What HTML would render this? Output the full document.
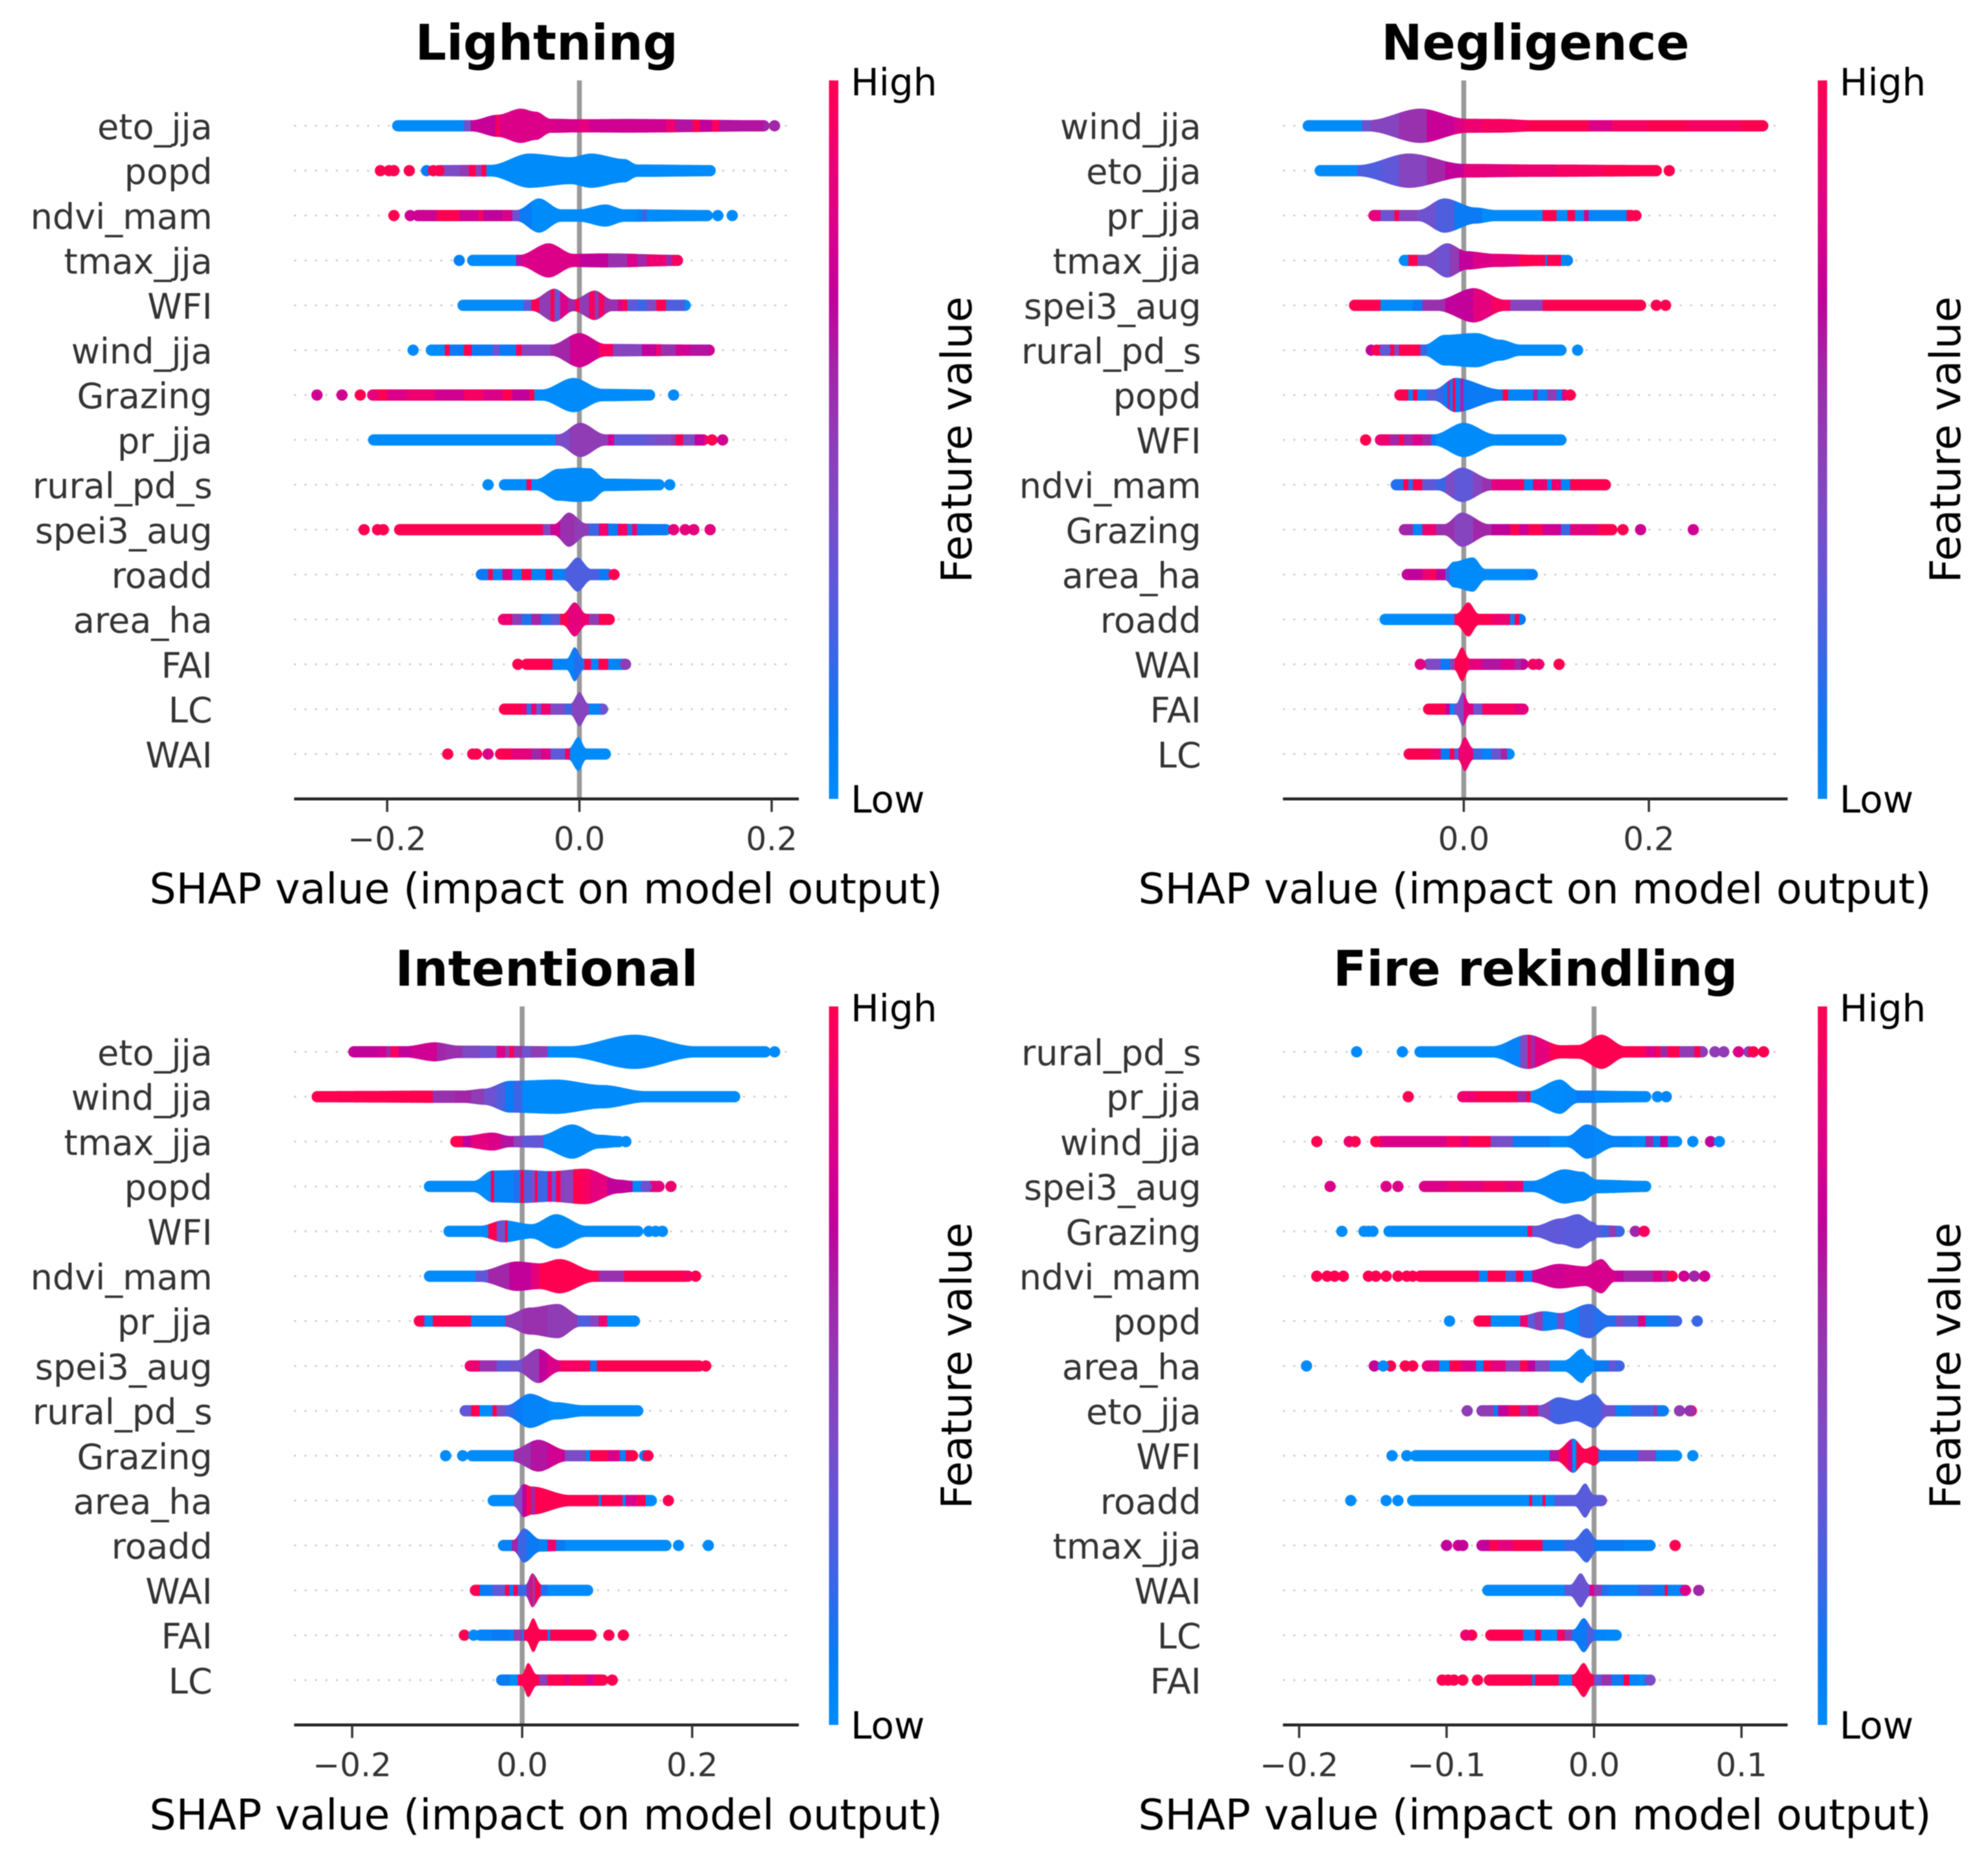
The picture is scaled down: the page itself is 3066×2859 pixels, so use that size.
<!DOCTYPE html>
<html lang="en">
<head>
<meta charset="utf-8">
<title>SHAP summary plots by fire cause</title>
<style>
html,body{margin:0;padding:0;background:#fff;}
#figure{display:block;width:3066px;height:2859px;filter:blur(0.9px);font-family:"DejaVu Sans","Liberation Sans",sans-serif;}
.title{font-size:75.5px;font-weight:700;fill:#000;text-anchor:middle;}
.xlabel{font-size:64.8px;fill:#000;text-anchor:middle;}
.cb{font-size:58px;fill:#000;}
.fv{font-size:64.7px;fill:#000;text-anchor:middle;}
.feat{font-size:54px;fill:#333;text-anchor:end;}
.tick{font-size:50px;fill:#333;text-anchor:middle;}
</style>
</head>
<body>
<svg id="figure" xmlns="http://www.w3.org/2000/svg" width="3066" height="2859" viewBox="0 0 3066 2859">
<defs id="defs">
<linearGradient id="cbGrad" x1="0" y1="1" x2="0" y2="0">
<stop offset="0" stop-color="#008bfb"/><stop offset=".1" stop-color="#0a7af5"/><stop offset=".2" stop-color="#3a66e6"/><stop offset=".3" stop-color="#5f58d8"/><stop offset=".4" stop-color="#7c4bc6"/><stop offset=".5" stop-color="#8f3cb5"/><stop offset=".6" stop-color="#a226a8"/><stop offset=".7" stop-color="#c2009a"/><stop offset=".8" stop-color="#dc0089"/><stop offset=".9" stop-color="#ee0070"/><stop offset="1" stop-color="#ff0051"/>
</linearGradient>
</defs>
<rect width="3066" height="2859" fill="#fff"/>

<g id="panel-lightning">
<text class="title" x="843" y="92">Lightning</text>
<text class="xlabel" x="842" y="1393">SHAP value (impact on model output)</text>
<rect x="1278.5" y="124" width="14.4" height="1108" fill="url(#cbGrad)"/>
<text class="cb" x="1312" y="147">High</text>
<text class="cb" x="1312" y="1253">Low</text>
<text class="fv" transform="translate(1498 678) rotate(-90)">Feature value</text>
</g>
<g id="panel-negligence">
<text class="title" x="2368" y="92">Negligence</text>
<text class="xlabel" x="2367" y="1393">SHAP value (impact on model output)</text>
<rect x="2803.5" y="124" width="14.4" height="1108" fill="url(#cbGrad)"/>
<text class="cb" x="2837" y="147">High</text>
<text class="cb" x="2837" y="1253">Low</text>
<text class="fv" transform="translate(3023 678) rotate(-90)">Feature value</text>
</g>
<g id="panel-intentional">
<text class="title" x="843" y="1520">Intentional</text>
<text class="xlabel" x="842" y="2821">SHAP value (impact on model output)</text>
<rect x="1278.5" y="1552" width="14.4" height="1108" fill="url(#cbGrad)"/>
<text class="cb" x="1312" y="1575">High</text>
<text class="cb" x="1312" y="2681">Low</text>
<text class="fv" transform="translate(1498 2106) rotate(-90)">Feature value</text>
</g>
<g id="panel-rekindling">
<text class="title" x="2368" y="1520">Fire rekindling</text>
<text class="xlabel" x="2367" y="2821">SHAP value (impact on model output)</text>
<rect x="2803.5" y="1552" width="14.4" height="1108" fill="url(#cbGrad)"/>
<text class="cb" x="2837" y="1575">High</text>
<text class="cb" x="2837" y="2681">Low</text>
<text class="fv" transform="translate(3023 2106) rotate(-90)">Feature value</text>
</g>
</svg>
<script>
/* ===== Lightning ===== */
const lightningFeatures = ["eto_jja","popd","ndvi_mam","tmax_jja","WFI","wind_jja","Grazing","pr_jja","rural_pd_s","spei3_aug","roadd","area_ha","FAI","LC","WAI"];
const lightningTicks = [-0.2,0,0.2];
const lightningTickLabels = ["\u22120.2","0.0","0.2"];
const lightningShape = [
[[-.189,0],[-.112,0],[-.085,.45],[-.061,.95],[-.045,.7],[-.03,.12],[0,.08],[.05,.1],[.192,0]],
[[-.144,0],[-.092,.02],[-.052,.95],[-.009,.65],[.012,.95],[.047,.5],[.06,.05],[.136,0]],
[[-.168,0],[-.065,0],[-.042,.95],[-.019,.05],[.0,.05],[.027,.45],[.047,.05],[.133,0]],
[[-.111,0],[-.062,0],[-.032,.95],[-.006,.08],[.03,.12],[.1,0]],
[[-.121,0],[-.049,0],[-.026,.9],[-.006,.02],[.016,.75],[.034,.02],[.11,0]],
[[-.154,0],[-.029,0],[0,.95],[.027,.05],[.135,0]],
[[-.214,0],[-.039,0],[-.006,.95],[.024,.05],[.073,0]],
[[-.214,0],[-.022,0],[.001,.95],[.027,0],[.129,0]],
[[-.078,0],[-.045,0],[-.022,.85],[-.003,.95],[.011,.9],[.027,.05],[.083,0]],
[[-.187,0],[-.026,0],[-.011,.95],[.007,.05],[.09,0]],
[[-.102,0],[-.016,0],[-.002,.95],[.012,0],[.03,0]],
[[-.078,0],[-.017,0],[-.005,.95],[.007,0],[.03,0]],
[[-.055,0],[-.013,0],[-.005,.95],[.004,0],[.047,0]],
[[-.078,0],[-.009,0],[0,.95],[.009,0],[.024,0]],
[[-.082,0],[-.011,0],[-.001,.95],[.007,0],[.027,0]]
];
const lightningTone = [
[[-.189,0],[-.12,.35],[-.113,.72],[-.087,.95],[-.083,.8],[-.03,.78],[0,.85],[.01,.75],[.09,.9],[.1,.65],[.118,1],[.125,.7],[.138,.95],[.146,.65],[.192,.6]],
[[-.14,.4],[-.125,.5],[-.115,1],[-.108,.45],[-.102,1],[-.097,0]],
[[-.168,.75],[-.148,1],[-.125,.75],[-.105,.95],[-.1,.7],[-.08,.8],[-.07,.35],[-.062,.1],[-.05,0],[.06,.05],[.065,.2],[.07,0]],
[[-.111,0],[-.066,.65],[-.06,.8],[.0,.7],[.03,.55],[.05,.8],[.06,.6],[.07,.9],[.09,.6],[.097,1]],
[[-.121,0],[-.058,.3],[-.05,1],[-.042,.5],[-.03,1],[-.026,.35],[-.02,.8],[-.012,.6],[-.004,1],[0,.5],[.01,.95],[.016,.5],[.02,.95],[.026,.55],[.04,.8],[.045,1],[.05,.3],[.06,.2],[.07,.4],[.08,1],[.09,.25],[.11,0]],
[[-.154,0],[-.14,1],[-.135,.1],[-.12,1],[-.112,.1],[-.09,.35],[-.083,.1],[-.066,1],[-.06,.45],[-.03,.6],[-.01,.75],[.02,.95],[.035,.45],[.065,.7],[.08,.9],[.085,.55],[.1,.75],[.115,.65],[.135,.75]],
[[-.214,1],[-.2,.8],[-.18,.9],[-.15,.75],[-.12,.95],[-.1,.8],[-.08,1],[-.07,.7],[-.052,1],[-.047,0]],
[[-.214,0],[-.025,.4],[-.01,.5],[.03,.75],[.036,.3],[.07,.35],[.08,.4],[.095,.5],[.1,1],[.108,.4],[.12,.7],[.129,.85]],
[[-.078,0],[-.055,1],[-.05,0]],
[[-.187,1],[-.04,.95],[-.038,.45],[-.03,.75],[-.02,.55],[-.005,.5],[.01,.2],[.02,.9],[.03,.1],[.04,.95],[.05,.15],[.055,.9],[.06,.1],[.09,.05]],
[[-.102,.1],[-.095,1],[-.09,.05],[-.08,.8],[-.07,.05],[-.06,1],[-.05,.05],[-.035,1],[-.028,.05],[-.015,.25],[.02,.1],[.03,.2]],
[[-.078,.9],[-.07,.5],[-.06,.15],[-.05,.6],[-.04,.15],[-.03,.3],[-.02,1],[-.012,.85],[.002,.9],[.01,.5],[.02,1],[.028,.05]],
[[-.055,1],[-.028,.05],[-.005,.15],[.004,.05],[.005,1],[.012,.05],[.02,1],[.03,.05],[.045,.4]],
[[-.078,1],[-.06,.9],[-.055,.2],[-.05,.9],[-.045,.3],[-.04,.9],[-.03,.4],[-.015,.2],[-.008,.45],[.01,.05],[.022,.35]],
[[-.082,1],[-.07,.85],[-.05,.6],[-.04,.8],[-.03,.3],[-.015,.9],[-.01,0]]
];
const lightningDots = [
[[.203,.6]],
[[-.207,1],[-.198,1],[-.193,1],[-.177,1],[-.159,.1],[-.152,1],[-.146,1]],
[[-.193,1],[-.176,.75],[-.162,.75],[.144,0],[.159,0]],
[[-.125,.06],[.102,.95]],
[],
[[-.173,0]],
[[-.273,.75],[-.247,.75],[-.228,1],[-.215,.85],[.098,0]],
[[.138,1],[.149,.75]],
[[-.095,0],[.094,0]],
[[-.224,1],[-.21,1],[-.204,1],[.098,.85],[.11,.85],[.119,.85],[.136,.85]],
[[.036,1]],
[[-.079,.9],[.031,1]],
[[-.064,1],[.048,.5]],
[],
[[-.137,1],[-.111,1],[-.107,1],[-.095,.8]]
];

/* ===== Negligence ===== */
const negligenceFeatures = ["wind_jja","eto_jja","pr_jja","tmax_jja","spei3_aug","rural_pd_s","popd","WFI","ndvi_mam","Grazing","area_ha","roadd","WAI","FAI","LC"];
const negligenceTicks = [0,0.2];
const negligenceTickLabels = ["0.0","0.2"];
const negligenceShape = [
[[-.168,0],[-.103,0],[-.047,.95],[.003,.12],[.04,.1],[.075,0],[.323,0]],
[[-.155,0],[-.114,0],[-.059,.95],[0,.1],[.075,.05],[.208,0]],
[[-.097,0],[-.049,0],[-.021,.95],[.013,.2],[.034,0],[.181,0]],
[[-.064,0],[-.042,0],[-.018,.95],[.003,.3],[.034,.08],[.08,0],[.108,0]],
[[-.118,0],[-.028,0],[.011,.95],[.044,0],[.191,0]],
[[-.09,0],[-.042,0],[-.021,.8],[.013,.95],[.04,.4],[.061,0],[.105,0]],
[[-.069,0],[-.032,0],[-.009,.95],[.04,0],[.109,0]],
[[-.09,0],[-.032,0],[0,.95],[.034,0],[.105,0]],
[[-.073,0],[-.028,0],[-.002,.95],[.03,0],[.153,0]],
[[-.064,0],[-.021,0],[-.002,.95],[.027,0],[.16,0]],
[[-.061,0],[-.02,0],[-.011,.6],[.01,.95],[.023,0],[.071,0]],
[[-.085,0],[-.008,0],[.005,.95],[.016,0],[.061,0]],
[[-.038,0],[-.01,0],[-.002,.95],[.006,0],[.064,0]],
[[-.038,0],[-.008,0],[-.001,.95],[.006,0],[.064,0]],
[[-.059,0],[-.006,0],[.001,.95],[.01,0],[.049,0]]
];
const negligenceTone = [
[[-.168,0],[-.11,.35],[-.1,.45],[-.07,.55],[-.04,.72],[-.01,.8],[0,.9],[.02,.95],[.07,1],[.135,.8],[.16,.95],[.2,1],[.24,.95],[.3,1]],
[[-.155,0],[-.115,.25],[-.09,.3],[-.07,.45],[-.04,.6],[-.02,.7],[0,.85],[.05,.9],[.1,.95],[.15,1]],
[[-.097,.85],[-.09,.35],[-.075,1],[-.07,.45],[-.05,.35],[-.03,.25],[-.01,.1],[.02,0],[.085,1],[.1,0],[.112,1],[.12,0],[.13,.8],[.135,.05],[.176,1]],
[[-.064,0],[-.06,1],[-.05,.4],[-.03,.35],[-.015,.5],[-.005,.7],[.01,.8],[.03,.85],[.06,1],[.085,1],[.088,.1],[.09,1],[.105,0]],
[[-.118,1],[-.09,0],[-.055,.1],[-.045,.55],[-.02,.7],[.01,.85],[.03,.95],[.05,.45],[.085,1]],
[[-.09,.5],[-.08,1],[-.075,.4],[-.07,1],[-.047,.2],[-.04,0]],
[[-.069,1],[-.06,.05],[-.055,1],[-.05,.05],[-.04,.3],[-.03,.2],[-.022,.1],[-.018,.6],[-.015,.1],[-.012,1],[-.009,.1],[-.004,.6],[0,.1],[.03,.1],[.042,1],[.048,.05],[.075,.6],[.08,.05],[.09,.5],[.1,.1],[.106,.8]],
[[-.09,.9],[-.08,.6],[-.07,1],[-.065,.6],[-.055,.8],[-.045,.6],[-.035,.1],[-.03,0]],
[[-.073,.15],[-.065,1],[-.06,.15],[-.055,1],[-.045,.3],[-.03,.2],[-.02,.4],[-.01,.3],[.01,.45],[.02,.55],[.03,.85],[.06,.95],[.065,.05],[.075,.9],[.09,.05],[.095,.9],[.105,.05],[.115,1]],
[[-.064,.6],[-.055,.05],[-.045,.9],[-.03,.55],[-.01,.45],[.01,.6],[.03,.7],[.05,1],[.06,.75],[.07,1],[.085,.75],[.105,.2],[.115,.85],[.145,1]],
[[-.061,.7],[-.045,.9],[-.035,1],[-.03,.7],[-.02,.2],[-.015,0]],
[[-.085,0],[-.01,1],[.015,1],[.03,.9],[.05,.05],[.055,1],[.06,.1]],
[[-.038,.4],[-.025,.1],[-.015,.45],[-.01,1],[.005,.85],[.02,.65],[.04,.8],[.055,.6],[.062,.7]],
[[-.038,1],[-.02,.7],[-.015,.05],[-.01,.4],[0,.85],[.01,.35],[.02,.95],[.045,.95],[.055,.85]],
[[-.059,1],[-.035,.9],[-.025,.1],[-.015,1],[-.01,.2],[-.006,.9],[.01,.2],[.02,.05],[.03,.35],[.04,.6],[.047,0]]
];
const negligenceDots = [
[],
[[.222,1]],
[[.186,1]],
[[.112,.05]],
[[.208,1],[.218,1]],
[[-.1,.7],[-.094,1],[-.085,.3],[.123,0]],
[[.115,1]],
[[-.106,1]],
[],
[[.172,1],[.191,.75],[.248,.75]],
[[.074,.05]],
[],
[[-.047,.85],[.075,.95],[.081,.9],[.103,1]],
[],
[]
];

/* ===== Intentional ===== */
const intentionalFeatures = ["eto_jja","wind_jja","tmax_jja","popd","WFI","ndvi_mam","pr_jja","spei3_aug","rural_pd_s","Grazing","area_ha","roadd","WAI","FAI","LC"];
const intentionalTicks = [-0.2,0,0.2];
const intentionalTickLabels = ["\u22120.2","0.0","0.2"];
const intentionalShape = [
[[-.198,0],[-.137,0],[-.103,.32],[-.074,.05],[.056,0],[.132,.95],[.204,0],[.286,0]],
[[-.241,0],[-.068,.05],[-.045,.2],[-.014,.85],[.04,.95],[.095,.5],[.145,0],[.25,0]],
[[-.078,0],[-.068,0],[-.035,.28],[-.014,0],[.021,.05],[.059,.95],[.091,.1],[.114,0]],
[[-.109,0],[-.057,0],[-.035,.85],[.002,.9],[.033,.8],[.074,1],[.114,.1],[.13,0],[.161,0]],
[[-.086,0],[-.049,0],[-.022,.45],[.011,.13],[.04,.95],[.075,0],[.136,0]],
[[-.109,0],[-.049,0],[-.006,.75],[.021,.6],[.044,.95],[.085,0],[.192,0]],
[[-.121,0],[-.02,0],[.009,.65],[.042,.95],[.068,0],[.132,0]],
[[-.061,0],[-.006,0],[.019,.95],[.044,0],[.208,0]],
[[-.067,0],[-.018,0],[.009,.95],[.04,.25],[.072,0],[.136,0]],
[[-.059,0],[-.012,0],[.019,.85],[.052,0],[.13,0]],
[[-.034,0],[-.01,0],[.002,.9],[.011,.7],[.056,0],[.152,0]],
[[-.022,0],[-.01,0],[.002,.95],[.021,.05],[.044,0],[.169,0]],
[[-.055,0],[.004,0],[.012,.95],[.023,0],[.077,0]],
[[-.049,0],[.005,0],[.013,.95],[.021,0],[.081,0]],
[[-.024,0],[0,0],[.007,.95],[.017,0],[.095,0]]
];
const intentionalTone = [
[[-.198,.7],[-.17,.75],[-.16,.6],[-.155,.95],[-.145,.7],[-.13,.75],[-.1,.6],[-.09,.55],[-.07,.42],[-.05,.35],[-.03,.8],[-.02,.5],[-.015,1],[-.01,.55],[0,.35],[.01,.5],[.03,0]],
[[-.241,1],[-.105,.55],[-.08,.6],[-.06,.5],[-.045,.35],[-.03,.25],[-.02,.1],[-.01,.2],[0,0]],
[[-.078,1],[-.07,.7],[-.06,.85],[-.04,.8],[-.025,.65],[-.01,.45],[0,.3],[.02,.35],[.025,0]],
[[-.109,0],[-.037,.95],[-.033,.05],[-.01,.15],[-.002,1],[.002,.25],[.01,.35],[.015,1],[.018,.2],[.03,.9],[.035,.3],[.04,1],[.045,.45],[.06,1],[.07,.95],[.08,.85],[.1,.7],[.13,.05],[.14,.4],[.15,.85]],
[[-.086,0],[-.04,1],[-.03,.35],[-.02,1],[-.017,0]],
[[-.109,0],[-.055,.3],[-.04,.6],[-.015,.7],[.01,.85],[.02,1],[.09,.55],[.12,1]],
[[-.121,1],[-.115,0],[-.105,1],[-.06,.05],[-.02,.5],[0,.55],[.03,.5],[.065,.25],[.08,.45],[.09,.9],[.1,0]],
[[-.061,.9],[-.05,.55],[-.03,.3],[-.015,.35],[0,.5],[.02,.7],[.03,.8],[.045,.95],[.08,.1],[.088,1]],
[[-.067,.3],[-.06,1],[-.05,0],[-.035,1],[-.03,.4],[-.02,.2],[-.01,.1],[0,.05],[.03,0]],
[[-.059,0],[-.01,.55],[.01,.65],[.03,.75],[.05,.4],[.075,.05],[.08,1],[.1,.8],[.115,.05],[.122,1]],
[[-.034,0],[-.01,.4],[0,.7],[.005,1],[.01,.6],[.015,1],[.09,.05],[.093,1],[.118,.05],[.122,.8],[.135,1],[.145,0]],
[[-.022,.05],[-.012,.6],[-.005,.2],[.005,.1],[.02,.05],[.03,.9],[.04,.1],[.05,0]],
[[-.055,1],[-.05,.1],[-.035,.3],[-.02,1],[-.015,.1],[-.01,1],[-.005,.2],[.005,.6],[.01,1],[.012,.5],[.015,1],[.022,.15],[.03,0]],
[[-.049,.05],[-.035,.1],[-.015,.05],[-.01,.5],[0,.05],[.002,1],[.03,.05],[.033,1]],
[[-.024,.1],[-.015,0],[-.005,1],[.02,.5],[.03,1],[.05,.8],[.055,1],[.075,.8],[.085,1]]
];
const intentionalDots = [
[[.297,0]],
[],
[[.122,0]],
[[.137,.02],[.146,.35],[.175,.9]],
[[.149,0],[.157,0],[.165,0]],
[[.204,1],[.195,.95]],
[],
[[.216,1]],
[],
[[-.09,0],[-.07,0],[.144,0],[.148,1]],
[[.172,1]],
[[.184,0],[.219,0]],
[],
[[-.068,1],[-.057,0],[.102,1],[.119,1]],
[[.106,1]]
];

/* ===== Fire rekindling ===== */
const rekindlingFeatures = ["rural_pd_s","pr_jja","wind_jja","spei3_aug","Grazing","ndvi_mam","popd","area_ha","eto_jja","WFI","roadd","tmax_jja","WAI","LC","FAI"];
const rekindlingTicks = [-0.2,-0.1,0,0.1];
const rekindlingTickLabels = ["\u22120.2","\u22120.1","0.0","0.1"];
const rekindlingShape = [
[[-.118,0],[-.069,0],[-.045,.95],[-.022,.08],[-.011,.1],[.005,.95],[.021,0],[.0735,0]],
[[-.089,0],[-.044,0],[-.023,.95],[-.011,.05],[.035,0]],
[[-.145,0],[-.018,0],[-.005,.95],[.014,0],[.056,0]],
[[-.115,0],[-.042,0],[-.02,.95],[-.008,.75],[.002,.1],[.035,0]],
[[-.139,0],[-.04,0],[-.023,.6],[-.011,.95],[0,.3],[.002,.05],[.017,0]],
[[-.118,0],[-.044,0],[-.024,.55],[-.006,.35],[.005,.95],[.014,0],[.05,0]],
[[-.078,0],[-.049,0],[-.034,.35],[-.023,.2],[-.003,.95],[.01,0],[.056,0]],
[[-.113,0],[-.02,0],[-.008,.95],[-.004,.4],[0,0],[.017,0]],
[[-.076,0],[-.037,0],[-.024,.65],[-.012,.4],[0,.95],[.009,0],[.047,0]],
[[-.121,0],[-.025,0],[-.014,.95],[-.006,.1],[0,.35],[.005,0],[.056,0]],
[[-.123,0],[-.013,0],[-.006,.95],[0,0],[.005,0]],
[[-.076,0],[-.014,0],[-.005,.95],[.002,0],[.038,0]],
[[-.072,0],[-.016,0],[-.009,.95],[-.003,0],[.061,0]],
[[-.07,0],[-.014,0],[-.007,.95],[0,0],[.015,0]],
[[-.071,0],[-.014,0],[-.007,.95],[-.001,0],[.035,0]]
];
const rekindlingTone = [
[[-.118,0],[-.06,.05],[-.05,.4],[-.045,.95],[-.043,.6],[-.04,.85],[-.03,1],[.035,.8],[.042,1],[.045,.6],[.05,1],[.058,.5],[.068,1],[.072,.5]],
[[-.089,.9],[-.08,1],[-.052,.6],[-.046,1],[-.043,0],[-.02,.02],[-.012,.08],[0,.02],[.015,0]],
[[-.145,.8],[-.13,.8],[-.1,.95],[-.09,.8],[-.085,1],[-.07,.38],[-.055,.08],[-.03,0],[-.018,.05],[0,.02],[.01,.05],[.025,0],[.035,.6],[.04,.1],[.045,.7],[.05,0]],
[[-.115,.8],[-.1,.9],[-.09,.85],[-.075,.95],[-.06,.85],[-.055,.9],[-.048,.05],[-.04,.02],[-.02,.01],[0,0]],
[[-.139,0],[-.045,.95],[-.042,.3],[-.02,.28],[.005,.2],[.01,.5],[.015,.2]],
[[-.118,1],[-.08,.95],[-.078,.05],[-.072,1],[-.06,.2],[-.053,1],[-.048,.1],[-.042,.75],[-.02,.78],[.015,.72],[.02,.6],[.04,.8],[.046,.6]],
[[-.078,1],[-.07,0],[-.05,.9],[-.045,.3],[-.04,.5],[-.035,.05],[-.025,.4],[-.02,.05],[-.01,.2],[0,.15],[.015,.4],[.02,.25],[.03,.8],[.035,.08],[.05,.2]],
[[-.113,.85],[-.105,0],[-.098,1],[-.09,.8],[-.08,.05],[-.075,1],[-.07,.85],[-.06,.45],[-.05,1],[-.045,.7],[-.04,.4],[-.03,0],[0,.1],[.01,.3],[.015,.2]],
[[-.076,.5],[-.068,.1],[-.065,.7],[-.058,1],[-.05,.6],[-.045,.85],[-.038,.4],[-.03,.22],[.005,.35],[.015,.05],[.025,.2],[.04,.5],[.043,.08]],
[[-.121,0],[-.03,.65],[-.024,1],[-.018,.8],[-.015,0],[-.012,1],[.003,.1],[.03,.45],[.042,0]],
[[-.123,0],[-.044,1],[-.042,0],[-.035,1],[-.033,0],[-.027,.28],[.005,.35]],
[[-.076,.7],[-.071,1],[-.065,.85],[-.055,1],[-.036,.95],[-.035,.1],[-.02,.2],[0,.1],[.02,.05]],
[[-.072,0],[-.02,.3],[-.015,.33],[-.003,.8],[0,.5],[.005,.15],[.01,.05],[.03,.2],[.04,.1],[.048,1],[.05,.05]],
[[-.07,1],[-.048,.05],[-.04,1],[-.036,0],[-.025,.95],[-.02,.5],[-.015,.1],[-.005,.25],[0,.05],[.008,.02]],
[[-.071,1],[-.042,.1],[-.04,1],[-.024,0],[-.015,1],[0,.3],[.005,.55],[.012,.1],[.02,1],[.024,.05],[.03,0]]
];
const rekindlingDots = [
[[-.161,0],[-.13,0],[.082,.5],[.088,.5],[.098,.8],[.105,.5],[.108,1],[.115,1]],
[[-.126,1],[.043,0],[.049,.03]],
[[-.188,1],[-.166,.9],[-.162,1],[-.148,1],[.067,0],[.079,.7],[.085,0]],
[[-.179,.8],[-.141,.8],[-.133,.8]],
[[-.171,0],[-.156,0],[-.153,0],[-.15,0],[.028,.6],[.034,.95]],
[[-.188,1],[-.181,1],[-.176,1],[-.17,1],[-.153,1],[-.148,1],[-.141,1],[-.133,1],[-.127,1],[-.123,1],[.053,1],[.061,.75],[.068,.6],[.075,.75]],
[[-.098,0],[.07,.2]],
[[-.195,0],[-.149,.7],[-.138,1],[-.143,0],[-.128,1],[-.123,1]],
[[-.086,.5],[.058,.5],[.066,1],[.065,.55]],
[[-.137,.0],[-.127,0],[.067,0]],
[[-.165,0],[-.141,0],[-.133,0]],
[[-.1,.7],[-.092,.75],[-.089,.7],[.055,1]],
[[.062,.8],[.071,.6]],
[[-.083,1],[-.087,.9]],
[[-.103,1],[-.099,1],[-.095,1],[-.089,1],[-.079,1],[.038,.4]]
];

/* ===== Shared colour scale (value 0..1 -> colour) ===== */
const colourStops = ["#008bfb","#0a7af5","#3a66e6","#5f58d8","#7c4bc6","#8f3cb5","#a226a8","#c2009a","#dc0089","#ee0070","#ff0051"];

const SVG_NS = "http://www.w3.org/2000/svg";
const rootSvg = document.getElementById("figure");
const defsEl = document.getElementById("defs");

function hexRgb(h){return [parseInt(h.slice(1,3),16),parseInt(h.slice(3,5),16),parseInt(h.slice(5,7),16)];}
function colourOf(v){
  const t=Math.max(0,Math.min(1,v))*(colourStops.length-1);
  const i=Math.min(colourStops.length-2,Math.floor(t));
  const a=hexRgb(colourStops[i]),b=hexRgb(colourStops[i+1]),f=t-i;
  return "rgb("+[0,1,2].map(k=>Math.round(a[k]+(b[k]-a[k])*f)).join(",")+")";
}
function densityAt(shape,x){
  for(let i=0;i<shape.length-1;i++){
    const a=shape[i],b=shape[i+1];
    if(x>=a[0]&&x<=b[0]){
      const f=(x-a[0])/((b[0]-a[0])||1);
      const s=f*f*(3-2*f);
      return a[1]+(b[1]-a[1])*s;
    }
  }
  return 0;
}

const DOT_R = 8.7, SPREAD = 18.7, ROW_STEP = 69.2;
const panelLayout = [
  {key:"lightning", panelId:"panel-lightning", features:lightningFeatures, ticks:lightningTicks, tickLabels:lightningTickLabels, shape:lightningShape, tone:lightningTone, dots:lightningDots, zero:893.6, unit:1482.5, left:453.6, dy:0},
  {key:"negligence", panelId:"panel-negligence", features:negligenceFeatures, ticks:negligenceTicks, tickLabels:negligenceTickLabels, shape:negligenceShape, tone:negligenceTone, dots:negligenceDots, zero:2257.5, unit:1427.5, left:1978.6, dy:0},
  {key:"intentional", panelId:"panel-intentional", features:intentionalFeatures, ticks:intentionalTicks, tickLabels:intentionalTickLabels, shape:intentionalShape, tone:intentionalTone, dots:intentionalDots, zero:805.3, unit:1311, left:453.6, dy:1428},
  {key:"rekindling", panelId:"panel-rekindling", features:rekindlingFeatures, ticks:rekindlingTicks, tickLabels:rekindlingTickLabels, shape:rekindlingShape, tone:rekindlingTone, dots:rekindlingDots, zero:2458.4, unit:2274, left:1978.6, dy:1428}
];

function make(tag,attrs,parent){
  const el=document.createElementNS(SVG_NS,tag);
  for(const k in attrs) el.setAttribute(k,attrs[k]);
  if(parent) parent.appendChild(el);
  return el;
}

panelLayout.forEach(function(p){
  const host=document.getElementById(p.panelId);
  const xScale=v=>p.zero+v*p.unit;
  const yScale=r=>p.dy+194+r*ROW_STEP;
  const right=p.left+778.4;
  const axisY=p.dy+1232;

  /* guide rows */
  p.features.forEach(function(name,r){
    const guide=make("line",{x1:p.left,x2:right-12,y1:yScale(r),y2:yScale(r),stroke:"#cccccc","stroke-width":2.8,"stroke-dasharray":"3 13.1"},host);
    
    
  });

  /* zero line */
  const zeroLine=make("line",{x1:xScale(0),x2:xScale(0),y1:p.dy+124,y2:axisY,stroke:"#999999","stroke-width":7.5},host);
  
  

  /* feature rows */
  p.features.forEach(function(name,r){
    const y=yScale(r);
    const label=make("text",{class:"feat",x:p.left-126,y:y+20.5},host);
    label.textContent=name;
    
    

    const shape=p.shape[r];
    const tone=p.tone[r].slice().sort((a,b)=>a[0]-b[0]);
    const x0=shape[0][0], x1=shape[shape.length-1][0];
    const gx0=xScale(x0)-DOT_R, gx1=xScale(x1)+DOT_R;
    const gradId="grad-"+p.key+"-"+r;
    const grad=make("linearGradient",{id:gradId,gradientUnits:"userSpaceOnUse",x1:gx0,x2:gx1,y1:0,y2:0},defsEl);
    let prev=tone[0][1];
    make("stop",{offset:0,"stop-color":colourOf(prev)},grad);
    tone.forEach(function(t){
      const off=Math.max(0,Math.min(1,(xScale(t[0])-gx0)/(gx1-gx0)));
      make("stop",{offset:off,"stop-color":colourOf(prev)},grad);
      make("stop",{offset:off,"stop-color":colourOf(t[1])},grad);
      prev=t[1];
    });
    make("stop",{offset:1,"stop-color":colourOf(prev)},grad);

    const stepV=2/p.unit;
    const top=[],bottom=[];
    for(let v=x0;v<x1;v+=stepV){
      const h=DOT_R+SPREAD*densityAt(shape,v);
      top.push(xScale(v).toFixed(1)+" "+(y-h).toFixed(1));
      bottom.unshift(xScale(v).toFixed(1)+" "+(y+h).toFixed(1));
    }
    const xe=xScale(x1).toFixed(1);
    top.push(xe+" "+(y-DOT_R).toFixed(1));
    const d="M"+top.join("L")+"A"+DOT_R+" "+DOT_R+" 0 0 1 "+xe+" "+(y+DOT_R).toFixed(1)+"L"+bottom.join("L")+"A"+DOT_R+" "+DOT_R+" 0 0 1 "+top[0]+"Z";
    const body=make("path",{d:d,fill:"url(#"+gradId+")"},host);
    
    

    p.dots[r].forEach(function(pt){
      const dot=make("circle",{cx:xScale(pt[0]),cy:y,r:DOT_R,fill:colourOf(pt[1])},host);
      
      
    });
  });

  /* axis */
  const axis=make("line",{x1:p.left,x2:right,y1:axisY,y2:axisY,stroke:"#222222","stroke-width":4.5},host);
  
  
  p.ticks.forEach(function(t,i){
    const tick=make("line",{x1:xScale(t),x2:xScale(t),y1:axisY,y2:axisY+20,stroke:"#333333","stroke-width":3.5},host);
    
    
    const tl=make("text",{class:"tick",x:xScale(t),y:axisY+79},host);
    tl.textContent=p.tickLabels[i];
    
    
  });
});
</script>
</body>
</html>
